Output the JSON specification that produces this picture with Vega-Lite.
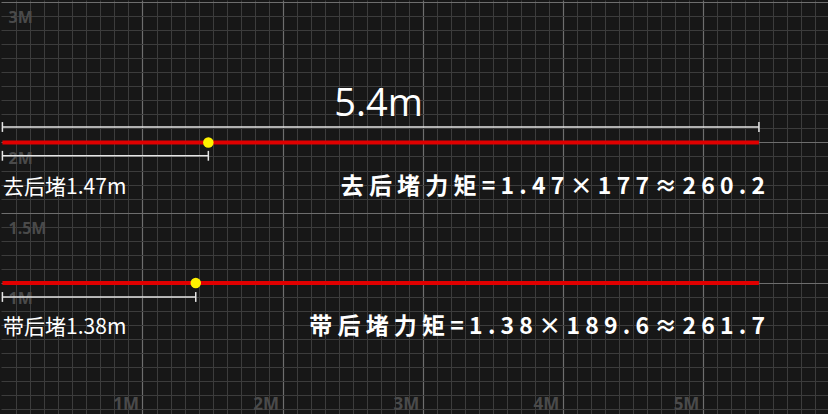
{
  "$schema": "https://vega.github.io/schema/vega-lite/v6.json",
  "width": 828,
  "height": 414,
  "padding": 0,
  "autosize": {"type": "fit", "contains": "padding"},
  "background": "#171717",
  "datasets": {
    "swing": [
      {"stroke": "去后堵", "start": 0, "end": 5.4, "level": 2.0, "pivot": 1.47},
      {"stroke": "带后堵", "start": 0, "end": 5.4, "level": 1.0, "pivot": 1.38}
    ],
    "measure": [
      {"name": "总长", "start": 0, "end": 5.4, "level": 2.11},
      {"name": "去后堵", "start": 0, "end": 1.47, "level": 1.905},
      {"name": "带后堵", "start": 0, "end": 1.38, "level": 0.9}
    ],
    "caps": [
      {"name": "总长", "at": 0, "low": 2.075, "high": 2.145},
      {"name": "总长", "at": 5.4, "low": 2.075, "high": 2.145},
      {"name": "去后堵", "at": 0, "low": 1.87, "high": 1.94},
      {"name": "去后堵", "at": 1.47, "low": 1.87, "high": 1.94},
      {"name": "带后堵", "at": 0, "low": 0.865, "high": 0.935},
      {"name": "带后堵", "at": 1.38, "low": 0.865, "high": 0.935}
    ],
    "notes": [
      {"kind": "length", "x": 2.685, "y": 2.188, "label": "5.4m"},
      {"kind": "pivot", "x": 0.005, "y": 1.675, "label": "去后堵1.47m"},
      {"kind": "pivot", "x": 0.005, "y": 0.68, "label": "带后堵1.38m"},
      {"kind": "torque", "x": 5.444, "y": 1.683, "label": "去 后 堵 力 矩 = 1 . 4 7 × 1 7 7 ≈ 2 6 0 . 2"},
      {"kind": "torque", "x": 5.444, "y": 0.687, "label": "带 后 堵 力 矩 = 1 . 3 8 × 1 8 9 . 6 ≈ 2 6 1 . 7"}
    ]
  },
  "layer": [
    {
      "data": {"name": "swing"},
      "mark": {"type": "rule", "color": "#e00000", "strokeWidth": 4},
      "encoding": {
        "x": {
          "field": "start", "type": "quantitative",
          "scale": {"domain": [-0.01, 5.893], "nice": false, "zero": false},
          "axis": {
            "orient": "top", "title": null, "labels": false, "ticks": false, "domain": false,
            "grid": true, "gridColor": "#3c3c3c", "gridWidth": 1, "gridOpacity": 1,
            "values": [0.1,0.2,0.3,0.4,0.5,0.6,0.7,0.8,0.9,1.1,1.2,1.3,1.4,1.5,1.6,1.7,1.8,1.9,2.1,2.2,2.3,2.4,2.5,2.6,2.7,2.8,2.9,3.1,3.2,3.3,3.4,3.5,3.6,3.7,3.8,3.9,4.1,4.2,4.3,4.4,4.5,4.6,4.7,4.8,4.9,5.1,5.2,5.3,5.4,5.5,5.6,5.7,5.8]
          }
        },
        "x2": {"field": "end"},
        "y": {
          "field": "level", "type": "quantitative",
          "scale": {"domain": [0.067, 3.014], "nice": false, "zero": false},
          "axis": {
            "orient": "right", "title": null, "labels": false, "ticks": false, "domain": false,
            "grid": true, "gridColor": "#3c3c3c", "gridWidth": 1, "gridOpacity": 1,
            "values": [0.1,0.2,0.3,0.4,0.5,0.6,0.7,0.8,0.9,1.1,1.2,1.3,1.4,1.6,1.7,1.8,1.9,2.1,2.2,2.3,2.4,2.5,2.6,2.7,2.8,2.9]
          }
        }
      }
    },
    {
      "data": {"name": "measure"},
      "mark": {"type": "rule", "color": "#e6e6e6", "strokeWidth": 1.5},
      "encoding": {
        "x": {
          "field": "start", "type": "quantitative",
          "axis": {
            "orient": "bottom", "title": null, "ticks": false, "tickSize": 0, "domain": false,
            "grid": true, "gridColor": "#6e6e6e", "gridWidth": 1.2, "gridOpacity": 1,
            "values": [1, 2, 3, 4, 5],
            "labelExpr": "datum.value + 'M'",
            "labelAlign": "right", "labelBaseline": "bottom", "labelPadding": -1, "labelOffset": -4,
            "labelFlush": false, "labelOverlap": false, "labelBound": false,
            "labelFont": "Noto Sans", "labelFontWeight": "bold", "labelFontSize": 17, "labelColor": "#4a4a4a"
          }
        },
        "x2": {"field": "end"},
        "y": {
          "field": "level", "type": "quantitative",
          "axis": {
            "orient": "left", "title": null, "ticks": false, "tickSize": 0, "domain": false,
            "grid": true, "gridColor": "#6e6e6e", "gridWidth": 1.2, "gridOpacity": 1,
            "values": [1, 1.5, 2, 3],
            "labelExpr": "datum.value + 'M'",
            "labelAlign": "left", "labelBaseline": "top", "labelPadding": -7, "labelOffset": 8,
            "labelFlush": false, "labelOverlap": false, "labelBound": false,
            "labelFont": "Noto Sans", "labelFontWeight": "bold", "labelFontSize": 16, "labelColor": "#4a4a4a"
          }
        }
      }
    },
    {
      "data": {"name": "caps"},
      "mark": {"type": "rule", "color": "#e6e6e6", "strokeWidth": 1.5},
      "encoding": {
        "x": {"field": "at", "type": "quantitative", "axis": null},
        "y": {"field": "low", "type": "quantitative", "axis": null},
        "y2": {"field": "high"}
      }
    },
    {
      "data": {"name": "swing"},
      "mark": {"type": "point", "filled": true, "shape": "circle", "color": "#fff200", "size": 110, "opacity": 1},
      "encoding": {
        "x": {"field": "pivot", "type": "quantitative", "axis": null},
        "y": {"field": "level", "type": "quantitative", "axis": null}
      }
    },
    {
      "data": {"name": "notes"},
      "transform": [{"filter": "datum.kind === 'length'"}],
      "mark": {"type": "text", "align": "center", "baseline": "alphabetic", "font": "Open Sans", "fontSize": 38, "color": "#ffffff"},
      "encoding": {
        "x": {"field": "x", "type": "quantitative", "axis": null},
        "y": {"field": "y", "type": "quantitative", "axis": null},
        "text": {"field": "label"}
      }
    },
    {
      "data": {"name": "notes"},
      "transform": [{"filter": "datum.kind === 'pivot'"}],
      "mark": {"type": "text", "align": "left", "baseline": "middle", "font": "Noto Sans CJK SC", "fontSize": 21, "color": "#ffffff"},
      "encoding": {
        "x": {"field": "x", "type": "quantitative", "axis": null},
        "y": {"field": "y", "type": "quantitative", "axis": null},
        "text": {"field": "label"}
      }
    },
    {
      "data": {"name": "notes"},
      "transform": [{"filter": "datum.kind === 'torque'"}],
      "mark": {"type": "text", "align": "right", "baseline": "middle", "font": "Noto Sans CJK SC", "fontWeight": "bold", "fontSize": 23, "color": "#ffffff"},
      "encoding": {
        "x": {"field": "x", "type": "quantitative", "axis": null},
        "y": {"field": "y", "type": "quantitative", "axis": null},
        "text": {"field": "label"}
      }
    }
  ],
  "resolve": {"axis": {"x": "independent", "y": "independent"}},
  "config": {"view": {"stroke": null}}
}
